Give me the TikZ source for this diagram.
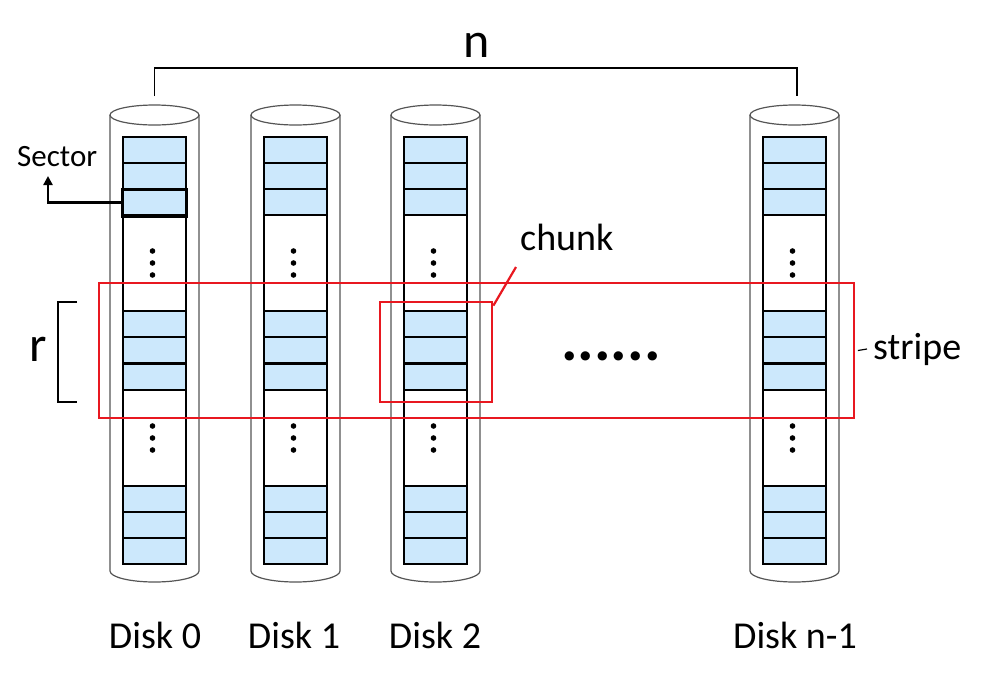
\documentclass[tikz,border=0pt]{standalone}
\usepackage{fontspec}
\setmainfont{Carlito}
\usetikzlibrary{arrows.meta}
\definecolor{secblue}{RGB}{204,232,252}
\definecolor{cylgray}{RGB}{85,85,85}
\definecolor{myred}{RGB}{232,24,32}
\begin{document}
\begin{tikzpicture}[x=1pt,y=-1pt,
  cyl/.style={draw=cylgray, line width=1.2pt},
  sectorbox/.style={draw=black, line width=1.1pt, fill=secblue},
  colbox/.style={draw=black, line width=1.2pt},
  redbox/.style={draw=myred, line width=2.7pt, inner sep=0pt},
  lbl/.style={font=\fontsize{38}{40}\selectfont, inner sep=0pt},
  biglbl/.style={font=\fontsize{50}{54}\selectfont, inner sep=0pt},
  dotmark/.style={fill=black, draw=none},
]
\useasboundingbox (0,0) rectangle (987,681);

% disks
\foreach \c in {154.5,295.5,435.5,794.5} {
  \draw[cyl, fill=white] (\c-44.5,115) -- (\c-44.5,571)
     arc[start angle=180, end angle=360, x radius=44.5pt, y radius=11pt]
     -- (\c+44.5,115);
  \draw[cyl, fill=white] (\c,115) ellipse [x radius=44.5pt, y radius=10pt];
  \draw[colbox, fill=white] (\c-31.5,137) rectangle (\c+31.5,564);
  \foreach \y in {137,163,189,311,337,364,486,512,538}
    \draw[sectorbox] (\c-31.5,\y) rectangle (\c+31.5,\y+26);
  \foreach \y in {251,263,275,426,438,450}
    \fill[dotmark] (\c-2,\y) circle[radius=2.8pt];
}

% disk labels
\node[lbl, anchor=base] (d0) at (155,648) {Disk 0};
\node[lbl, anchor=base] (d1) at (294,648) {Disk 1};
\node[lbl, anchor=base] (d2) at (435,648) {Disk 2};
\node[lbl, anchor=base] (dn) at (795,648) {Disk n-1};

% n bracket
\coordinate (nl) at (154.5,96);
\coordinate (nr) at (797,96);
\draw[line width=1.8pt] (nl) -- (154.5,68) -- (797,68) -- (nr);
\node[biglbl, anchor=base] (nlabel) at (477,57) {n};

% r bracket
\coordinate (rt) at (77,302);
\coordinate (rb) at (77,402);
\draw[line width=1.6pt] (rt) -- (58,302) -- (58,402) -- (rb);
\node[biglbl, anchor=base] (rlabel) at (38,361) {r};

% sector
\node[draw=black, line width=3pt, minimum width=64pt, minimum height=27pt, inner sep=0pt] (sec) at (154.5,202.5) {};
\node[font=\fontsize{31}{34}\selectfont, inner sep=0pt, anchor=base west] (seclbl) at (17,166) {Sector};
\coordinate (sectip) at (48,176);
\draw[line width=2.5pt, -{Triangle[length=9pt,width=9pt]}] (sec.west) -| (sectip);

% stripe
\node[redbox, minimum width=755pt, minimum height=135pt] (stripe) at (476.5,350.5) {};
\node[lbl, anchor=west] (stripelbl) at (873,349) {stripe};
\draw[line width=1.2pt] ([xshift=2.5pt]stripe.east) -- ([xshift=-6pt]stripelbl.west);

% chunk
\node[redbox, minimum width=112pt, minimum height=100pt] (chunk) at (436,352) {};
\node[lbl, anchor=base west] (chunklbl) at (520,250) {chunk};
\coordinate (chunkend) at (516,267);
\draw[myred, line width=2.2pt] ([yshift=-5pt]chunk.north east) -- (chunkend);

% ellipsis
\node[inner sep=0pt, anchor=base, font=\bfseries\fontsize{62}{64}\selectfont] (ell) at (611,360) {......};
\end{tikzpicture}
\end{document}
